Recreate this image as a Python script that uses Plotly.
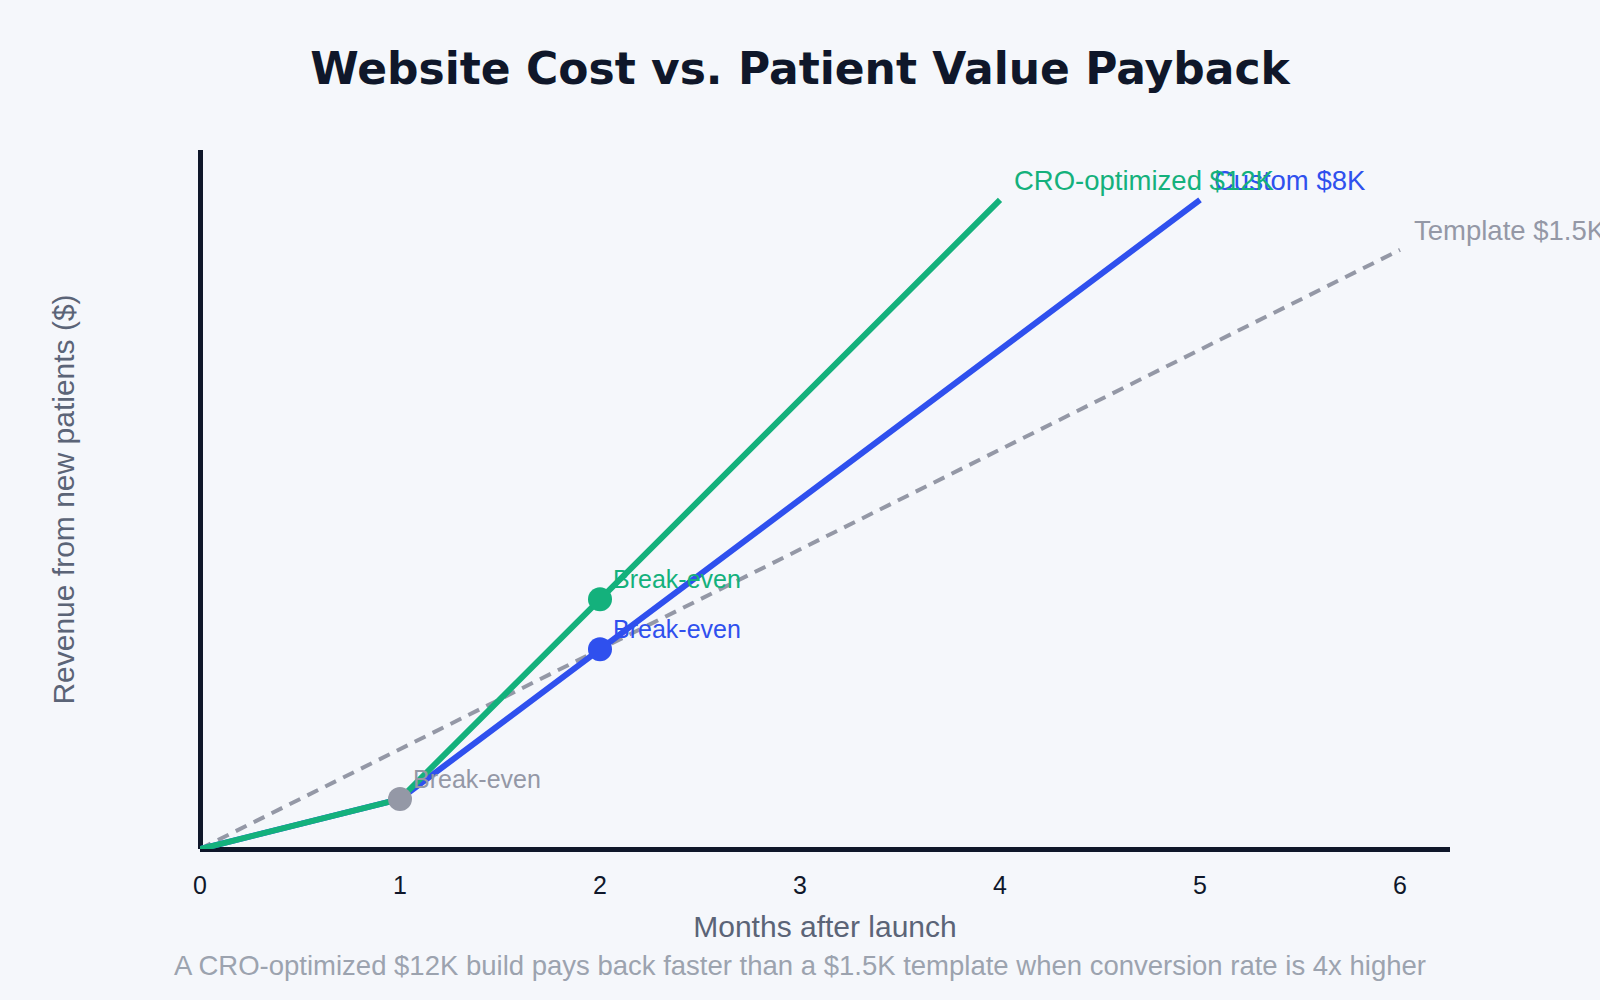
import plotly.graph_objects as go

months_cro = [0, 1, 2, 3, 4]
revenue_cro = [0, 1500, 7500, 13500, 19500]
months_custom = [0, 1, 2, 3, 4, 5]
revenue_custom = [0, 1500, 6000, 10500, 15000, 19500]
months_template = [0, 1, 2, 3, 4, 5, 6]
revenue_template = [0, 3000, 6000, 9000, 12000, 15000, 18000]

breakeven_months = [1, 2, 2]
breakeven_values = [1500, 6000, 7500]
breakeven_names = ["Template", "Custom", "CRO"]

end_labels = ["Template $1.5K", "Custom $8K", "CRO-optimized $12K"]
tick_vals = [0, 1, 2, 3, 4, 5, 6]

GREEN = "#14B17C"
BLUE = "#2F50EE"
GRAY = "#9498A6"
DARK = "#0F172A"
BG = "#F5F7FB"
FONT = "Liberation Sans, Arial, sans-serif"

fig = go.Figure()
fig.add_trace(go.Scatter(x=months_template, y=revenue_template, mode="lines",
                         line=dict(color=GRAY, width=4, dash="12px,8px"), hoverinfo="skip"))
fig.add_trace(go.Scatter(x=months_custom, y=revenue_custom, mode="lines",
                         line=dict(color=BLUE, width=6), hoverinfo="skip"))
fig.add_trace(go.Scatter(x=months_cro, y=revenue_cro, mode="lines",
                         line=dict(color=GREEN, width=6), hoverinfo="skip"))
be_colors = [GRAY, BLUE, GREEN]
fig.add_trace(go.Scatter(x=breakeven_months, y=breakeven_values, mode="markers",
                         marker=dict(color=be_colors, size=24), hoverinfo="skip"))

for mx, vy, c in zip(breakeven_months, breakeven_values, be_colors):
    fig.add_annotation(x=mx, y=vy, text="Break-even", showarrow=False,
                       xanchor="left", yanchor="bottom", xshift=11, yshift=4,
                       font=dict(size=25, color=c, family=FONT))

ends = [(months_template[-1], revenue_template[-1], GRAY),
        (months_custom[-1], revenue_custom[-1], BLUE),
        (months_cro[-1], revenue_cro[-1], GREEN)]
for (mx, vy, c), lab in zip(ends, end_labels):
    fig.add_annotation(x=mx, y=vy, text=lab, showarrow=False,
                       xanchor="left", yanchor="bottom", xshift=12, yshift=2,
                       font=dict(size=27.5, color=c, family=FONT))

fig.add_annotation(x=0.48, y=-0.166, xref="paper", yref="paper", showarrow=False,
                   text="A CRO-optimized $12K build pays back faster than a $1.5K template when conversion rate is 4x higher",
                   font=dict(size=27.5, color="#9CA3AF", family=FONT), xanchor="center", yanchor="middle")

fig.update_layout(
    width=1600, height=1000,
    paper_bgcolor=BG, plot_bgcolor=BG,
    margin=dict(l=200, r=150, t=150, b=151),
    showlegend=False,
    title=dict(text="Website Cost vs. Patient Value Payback", x=0.5, xanchor="center",
               y=0.931, yanchor="middle",
               font=dict(size=44, color=DARK, weight="bold", family="Arial Black, DejaVu Sans, sans-serif")),
)
fig.update_xaxes(range=[0, 6.25], tickvals=tick_vals, showgrid=False,
                 zeroline=True, zerolinecolor=DARK, zerolinewidth=5, showline=False,
                 ticks="", ticklabelstandoff=19,
                 tickfont=dict(size=25, color=DARK, family=FONT),
                 title=dict(text="Months after launch", standoff=17,
                            font=dict(size=30, color="#5B6477", family=FONT)))
fig.update_yaxes(range=[0, 21000], showticklabels=False, showgrid=False,
                 zeroline=True, zerolinecolor=DARK, zerolinewidth=5, showline=False, ticks="",
                 title=dict(text="Revenue from new patients ($)", standoff=115,
                            font=dict(size=30, color="#5B6477", family=FONT)))

fig.write_html("out.html")
